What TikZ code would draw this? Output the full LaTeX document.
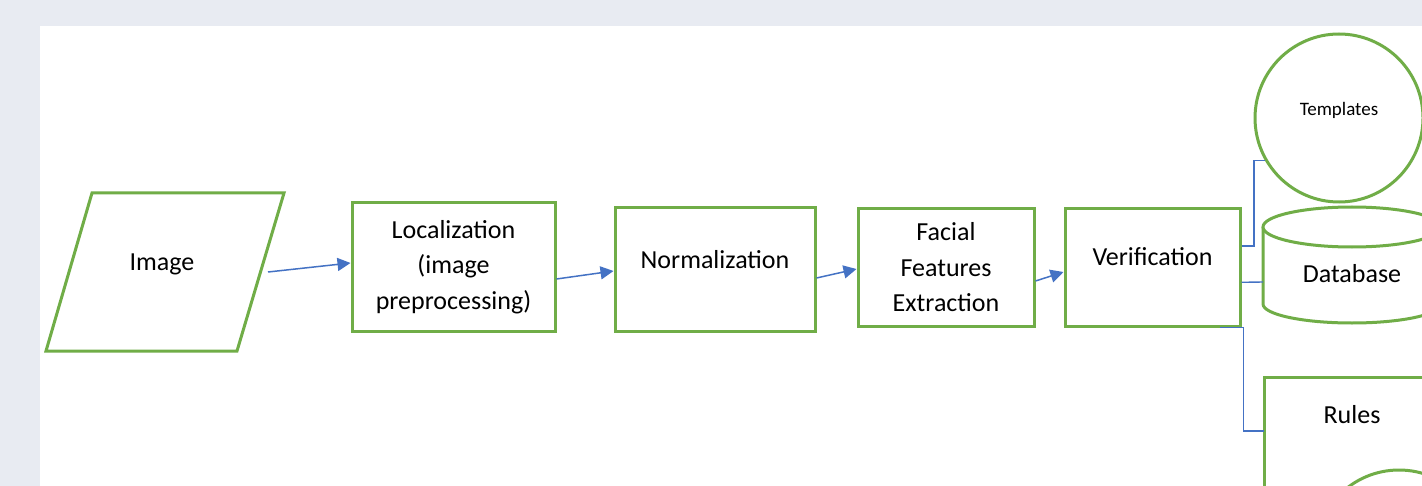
\documentclass[tikz,border=0pt]{standalone}
\usepackage{fontspec}
\setmainfont{Carlito}
\usepackage{tikz}
\usepackage{xcolor}
\usetikzlibrary{arrows.meta,calc}

\definecolor{stagegreen}{HTML}{70AD47}
\definecolor{linkblue}{HTML}{4472C4}
\definecolor{pagegray}{HTML}{E8EBF2}

\begin{document}
\begin{tikzpicture}[x=0.5pt, y=-0.5pt,
    font=\fontsize{13}{17.75}\selectfont,
    stage/.style={draw=stagegreen, line width=1.5pt, fill=white, inner sep=0pt, align=center},
    flow/.style={draw=linkblue, line width=0.75pt, -{Triangle[length=6.5pt,width=6.5pt]}},
    link/.style={draw=linkblue, line width=0.7pt},
    textup/.style={text depth=#1}]
    % Page
    \useasboundingbox (0,0) rectangle (1422,486);
    \fill[pagegray] (0,0) rectangle (1422,486);
    \fill[white] (40,26) rectangle (1422,486);
    \clip (0,0) rectangle (1422,486);

    % Input image (parallelogram)
    \draw[stagegreen, line width=1.5pt, fill=white] (92,193) -- (284,193) -- (237,351) -- (46,351) -- cycle;
    \node (img) at (162,264) {Image};

    % Processing stages
    \node[stage, minimum width=101.5pt, minimum height=64pt] (loc) at (453.5,267) {Localization\\(image\\preprocessing)};
    \node[stage, minimum width=100pt, minimum height=61.5pt, textup=10pt] (norm) at (715,269.5) {Normalization};
    \node[stage, minimum width=88pt, minimum height=58.5pt] (feat) at (946,267.5) {Facial\\Features\\Extraction};
    \node[stage, minimum width=87.5pt, minimum height=58.5pt, textup=11pt] (verif) at (1152.5,267.5) {Verification};

    % Templates
    \node[stage, circle, minimum size=84pt, font=\fontsize{9.5}{11}\selectfont, textup=9.5pt] (tpl) at (1339,118) {Templates};

    % Database (cylinder)
    \fill[white] (1263,227) -- (1263,304) arc[start angle=180, end angle=0, x radius=89, y radius=19] -- (1441,227) -- cycle;
    \draw[stagegreen, line width=1.5pt] (1263,227) -- (1263,304) arc[start angle=180, end angle=0, x radius=89, y radius=19] -- (1441,227);
    \draw[stagegreen, line width=1.5pt, fill=white] (1352,227) ellipse[x radius=89, y radius=20];
    \node (db) at (1352,274) {Database};
    \coordinate (dbside) at (1263,282);

    % Rules
    \draw[stagegreen, line width=1.5pt, fill=white] (1264,377) rectangle (1440,560);
    \node (rules) at (1352,415) {Rules};
    \coordinate (rulesside) at (1264,431);
    \draw[stagegreen, line width=1.5pt, fill=white] (1399,554) circle[radius=84];

    % Arrows between stages
    \draw[flow] ($(img)+(106,8)$) -- ([yshift=2pt]loc.west);
    \draw[flow] ([yshift=-6pt]loc.east) -- ([yshift=-0.75pt]norm.west);
    \draw[flow] ([yshift=-4.25pt]norm.east) -- ([yshift=-0.75pt]feat.west);
    \draw[flow] ([yshift=-6.75pt]feat.east) -- ([yshift=-2.25pt]verif.west);

    % Links to storage
    \draw[link] ([yshift=10.75pt]verif.east) -- ++(6.25pt,0) |- (tpl.210);
    \draw[link] ([yshift=-7.4pt]verif.east) -- (dbside);
    \draw[link] ([xshift=-11pt]verif.south east) -- ++(12pt,0) |- (rulesside);
\end{tikzpicture}
\end{document}
